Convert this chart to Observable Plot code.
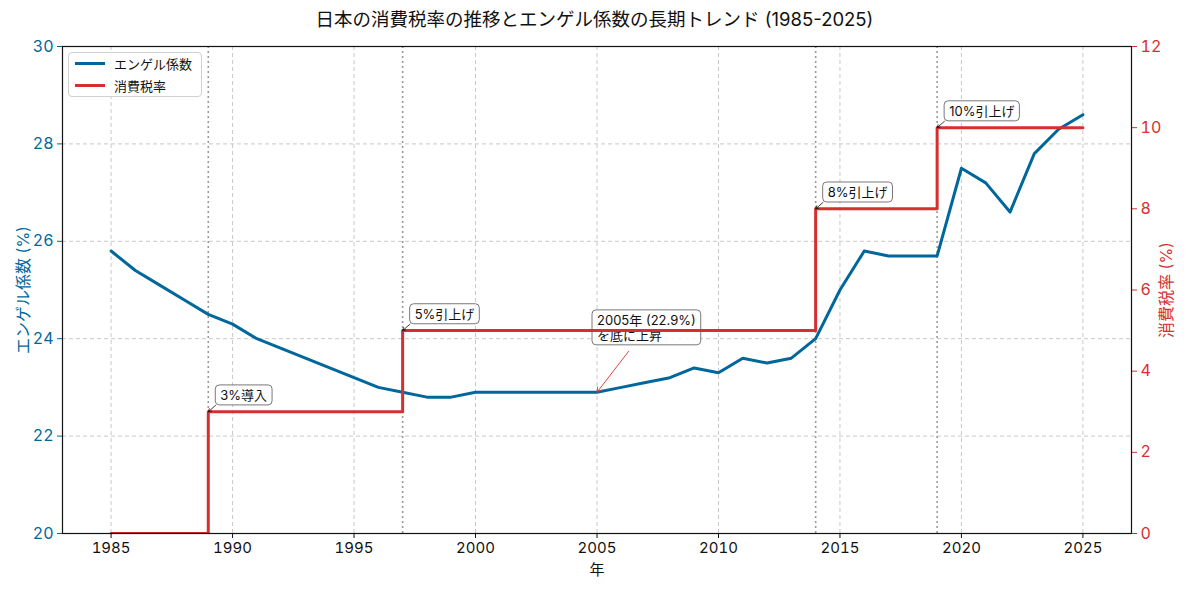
<!DOCTYPE html>
<html>
<head>
<meta charset="utf-8">
<script src="https://cdn.jsdelivr.net/npm/d3@7"></script>
<script src="https://cdn.jsdelivr.net/npm/@observablehq/plot@0.6"></script>
<style>
  body { margin: 0; background: #fff; font-family: Inter, "Noto Sans CJK JP", sans-serif; }
  #wrap { position: relative; width: 1189px; height: 590px; }
  #title { position: absolute; left: 0; top: 0; width: 1189px; height: 36px; line-height: 38px; text-align: center; font-size: 18.5px; color: #111; }
  #legend { position: absolute; left: 68px; top: 52px; width: 132px; height: 43px; border: 1px solid #d0d0d0; border-radius: 4px; background: rgba(255,255,255,0.85); font-size: 13px; color: #111; }
  .item { position: absolute; left: 6px; display: flex; align-items: center; }
  .sw { width: 30px; height: 3px; margin-right: 9px; }
</style>
</head>
<body>
<div id="wrap">
  <div id="chart"></div>
  <div id="title">日本の消費税率の推移とエンゲル係数の長期トレンド (1985-2025)</div>
  <div id="legend">
    <div class="item" style="top:1px"><div class="sw" style="background:#00679c"></div>エンゲル係数</div>
    <div class="item" style="top:23px"><div class="sw" style="background:#d62f2f"></div>消費税率</div>
  </div>
</div>
<script>
const years = [1985,1986,1987,1988,1989,1990,1991,1992,1993,1994,1995,1996,1997,1998,1999,2000,2001,2002,2003,2004,2005,2006,2007,2008,2009,2010,2011,2012,2013,2014,2015,2016,2017,2018,2019,2020,2021,2022,2023,2024,2025];
const engel = [25.8,25.4,25.1,24.8,24.5,24.3,24.0,23.8,23.6,23.4,23.2,23.0,22.9,22.8,22.8,22.9,22.9,22.9,22.9,22.9,22.9,23.0,23.1,23.2,23.4,23.3,23.6,23.5,23.6,24.0,25.0,25.8,25.7,25.7,25.7,27.5,27.2,26.6,27.8,28.3,28.6];
const taxYears = [1985,1989,1997,2014,2019,2025];
const taxRates = [0,3,5,8,10,10];
const changeYears = [1989,1997,2014,2019];
const changeLabels = ["3%導入","5%引上げ","8%引上げ","10%引上げ"];
const changeRates = [3,5,8,10];
const bottomYear = 2005;
const bottomValue = 22.9;
const bottomLabel = "2005年 (22.9%)\nを底に上昇";
const xTicks = [1985,1990,1995,2000,2005,2010,2015,2020,2025];
const leftTicks = [20,22,24,26,28,30];
const rightTicks = [0,2,4,6,8,10,12];

const BLUE = "#00679c", RED = "#d62f2f";
const FONT = 'Inter, "Noto Sans CJK JP", sans-serif';
const toLeft = t => 20 + t * 10 / 12;

const engelData = years.map((y, i) => ({year: y, v: engel[i]}));
const taxData = taxYears.map((y, i) => ({year: y, t: taxRates[i]}));
const annos = changeYears.map((y, i) => ({year: y, t: changeRates[i], label: changeLabels[i]}));
const bottom = [{year: bottomYear, v: bottomValue, label: bottomLabel}];

const chart = Plot.plot({
  width: 1189,
  height: 590,
  marginLeft: 62,
  marginRight: 58,
  marginTop: 46,
  marginBottom: 57,
  style: {fontFamily: FONT, fontSize: "15px", color: "#111", background: "white"},
  x: {domain: [1983, 2027]},
  y: {domain: [20, 30]},
  marks: [
    Plot.gridX(xTicks, {stroke: "#c8c8c8", strokeOpacity: 1, strokeDasharray: "4,3"}),
    Plot.gridY(leftTicks, {stroke: "#c8c8c8", strokeOpacity: 1, strokeDasharray: "4,3"}),
    Plot.ruleX(changeYears, {stroke: "#999", strokeWidth: 1.6, strokeDasharray: "2,3"}),
    Plot.axisX(xTicks, {tickFormat: d => String(d), tickSize: 5, tickPadding: 4, label: "年", labelAnchor: "center", labelArrow: "none", labelOffset: 41, fontSize: 15}),
    Plot.axisY(leftTicks, {anchor: "left", tickSize: 5, tickPadding: 4, color: BLUE, label: "エンゲル係数 (%)", labelAnchor: "center", labelArrow: "none", labelOffset: 45, fontSize: 16}),
    Plot.axisY(rightTicks.map(toLeft), {anchor: "right", tickSize: 5, tickPadding: 4, color: RED, tickFormat: v => String(Math.round((v - 20) * 1.2)), label: "消費税率 (%)", labelAnchor: "center", labelArrow: "none", labelOffset: 40, fontSize: 16}),
    Plot.lineY(engelData, {x: "year", y: "v", stroke: BLUE, strokeWidth: 3}),
    Plot.arrow(bottom, {x1: d => d.year + 1.3, y1: d => d.v + 0.84, x2: "year", y2: "v", stroke: RED, strokeWidth: 0.9, headLength: 9}),
    Plot.text(bottom, {x: "year", y: "v", text: "label", textAnchor: "start", lineAnchor: "top", lineHeight: 1.15, dx: 0, dy: -78, fontSize: 13, fill: "#111", className: "anno"}),
    Plot.lineY(taxData, {x: "year", y: d => toLeft(d.t), curve: "step-after", stroke: RED, strokeWidth: 3, clip: true}),
    Plot.arrow(annos, {x1: d => d.year + 0.3, y1: d => toLeft(d.t) + 0.13, x2: "year", y2: d => toLeft(d.t), stroke: "#111", strokeWidth: 0.8, headLength: 6}),
    Plot.text(annos, {x: "year", y: d => toLeft(d.t), text: "label", textAnchor: "start", dx: 12, dy: -16, fontSize: 13, fill: "#111", className: "anno"}),
    Plot.frame({stroke: "#111", strokeWidth: 1.2})
  ]
});
document.getElementById("chart").appendChild(chart);

// rounded boxes behind annotation texts
chart.querySelectorAll("g.anno text").forEach(t => {
  const b = t.getBBox();
  const r = document.createElementNS("http://www.w3.org/2000/svg", "rect");
  r.setAttribute("x", b.x - 5);
  r.setAttribute("y", b.y - 2);
  r.setAttribute("width", b.width + 10);
  r.setAttribute("height", b.height + 4);
  r.setAttribute("rx", 4);
  r.setAttribute("fill", "white");
  r.setAttribute("fill-opacity", 0.8);
  r.setAttribute("stroke", "#555");
  r.setAttribute("stroke-width", 0.8);
  const tr = t.getAttribute("transform");
  if (tr) r.setAttribute("transform", tr);
  t.parentNode.insertBefore(r, t);
});
</script>
</body>
</html>
